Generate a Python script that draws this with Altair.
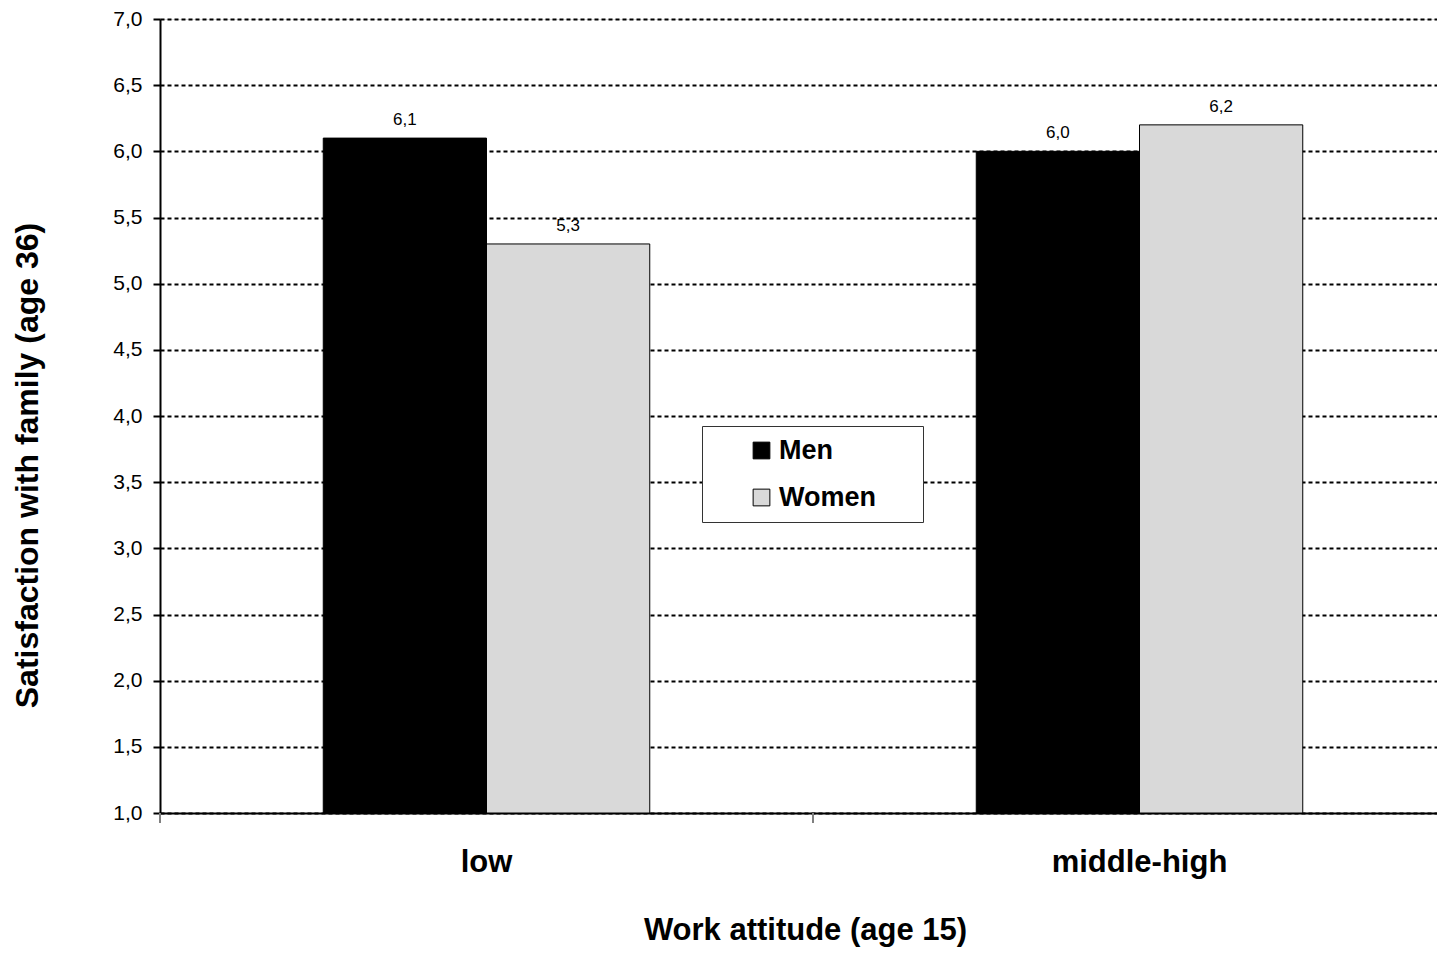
import altair as alt
import pandas as pd

# ---- data ----
categories = ["low", "middle-high"]
genders = ["Men", "Women"]
men_values = [6.1, 6.0]
women_values = [5.3, 6.2]
y_ticks = [1.0, 1.5, 2.0, 2.5, 3.0, 3.5, 4.0, 4.5, 5.0, 5.5, 6.0, 6.5, 7.0]

rows = []
for i, c in enumerate(categories):
    rows.append({"attitude": c, "gender": "Men", "value": men_values[i]})
    rows.append({"attitude": c, "gender": "Women", "value": women_values[i]})
df = pd.DataFrame(rows)
tick_df = pd.DataFrame({"attitude": categories})

FONT = "Liberation Sans"
W, H = 1277, 794
BAND_RANGE = 1306
PAD_RIGHT = "\u00a0" * 4 + "\u2009" + "\u200b"

x_enc = alt.X(
    "attitude:N",
    sort=categories,
    scale=alt.Scale(range=[0, BAND_RANGE], paddingInner=0, paddingOuter=0),
    axis=alt.Axis(
        title="Work attitude (age 15)",
        labelAngle=0,
        ticks=False,
        tickSize=0,
        domainColor="black",
        domainWidth=2,
        labelFont=FONT,
        labelFontSize=31,
        labelFontWeight="bold",
        labelColor="black",
        labelPadding=34,
        titleFont=FONT,
        titleFontSize=31,
        titleFontWeight="bold",
        titleColor="black",
        titlePadding=38,
        titleX=645,
    ),
)
x_plain = alt.X("attitude:N", sort=categories)
xoff = alt.XOffset("gender:N", sort=genders,
                   scale=alt.Scale(paddingInner=0, paddingOuter=1))

y_enc = alt.Y(
    "value:Q",
    scale=alt.Scale(domain=[1, 7], nice=False, zero=False),
    axis=alt.Axis(
        values=y_ticks,
        title="Satisfaction with family (age 36)",
        labelExpr="replace(format(datum.value, '.1f'), '.', ',')",
        grid=True,
        gridColor="black",
        gridDash=[4, 3],
        gridWidth=2,
        domainColor="black",
        domainWidth=2,
        tickColor="black",
        tickSize=7,
        tickWidth=2,
        labelPadding=11,
        labelFont=FONT,
        labelFontSize=21,
        labelColor="black",
        titleFont=FONT,
        titleFontSize=32,
        titleFontWeight="bold",
        titleColor="black",
        titlePadding=68,
        titleY=446,
    ),
)

bars = alt.Chart(df).mark_bar(stroke="black", strokeWidth=1).encode(
    x=x_enc,
    xOffset=xoff,
    y=y_enc,
    y2=alt.datum(1),
    fill=alt.Fill(
        "gender:N",
        sort=genders,
        scale=alt.Scale(domain=genders, range=["black", "#d9d9d9"]),
        legend=alt.Legend(
            title=None,
            orient="none",
            legendX=542,
            legendY=407,
            direction="vertical",
            fillColor="white",
            strokeColor="#333333",
            padding=11,
            rowPadding=19,
            symbolType="square",
            symbolSize=280,
            symbolStrokeColor="black",
            symbolStrokeWidth=1,
            symbolOffset=35,
            labelOffset=4,
            labelFont=FONT,
            labelFontSize=27,
            labelFontWeight="bold",
            labelColor="black",
            labelExpr="datum.label + '" + PAD_RIGHT + "'",
        ),
    ),
)

value_labels = alt.Chart(df).transform_calculate(
    lbl="replace(format(datum.value, '.1f'), '.', ',')"
).mark_text(
    baseline="alphabetic", dy=-13, fontSize=17, font=FONT, color="black"
).encode(
    x=x_plain,
    xOffset=xoff,
    y="value:Q",
    text="lbl:N",
)

x_ticks = alt.Chart(tick_df).mark_rule(color="#808080", strokeWidth=2).encode(
    x=alt.X("attitude:N", sort=categories, bandPosition=0),
    y=alt.value(H),
    y2=alt.value(H + 10),
)

chart = alt.layer(bars, value_labels, x_ticks).properties(
    width=W,
    height=H,
    autosize=alt.AutoSizeParams(type="none"),
    padding={"left": 152, "top": 11, "right": 0, "bottom": 137},
    background="white",
).configure_view(strokeWidth=0).configure(font=FONT)

chart.save("out.html", embed_options={"renderer": "svg", "actions": False})
